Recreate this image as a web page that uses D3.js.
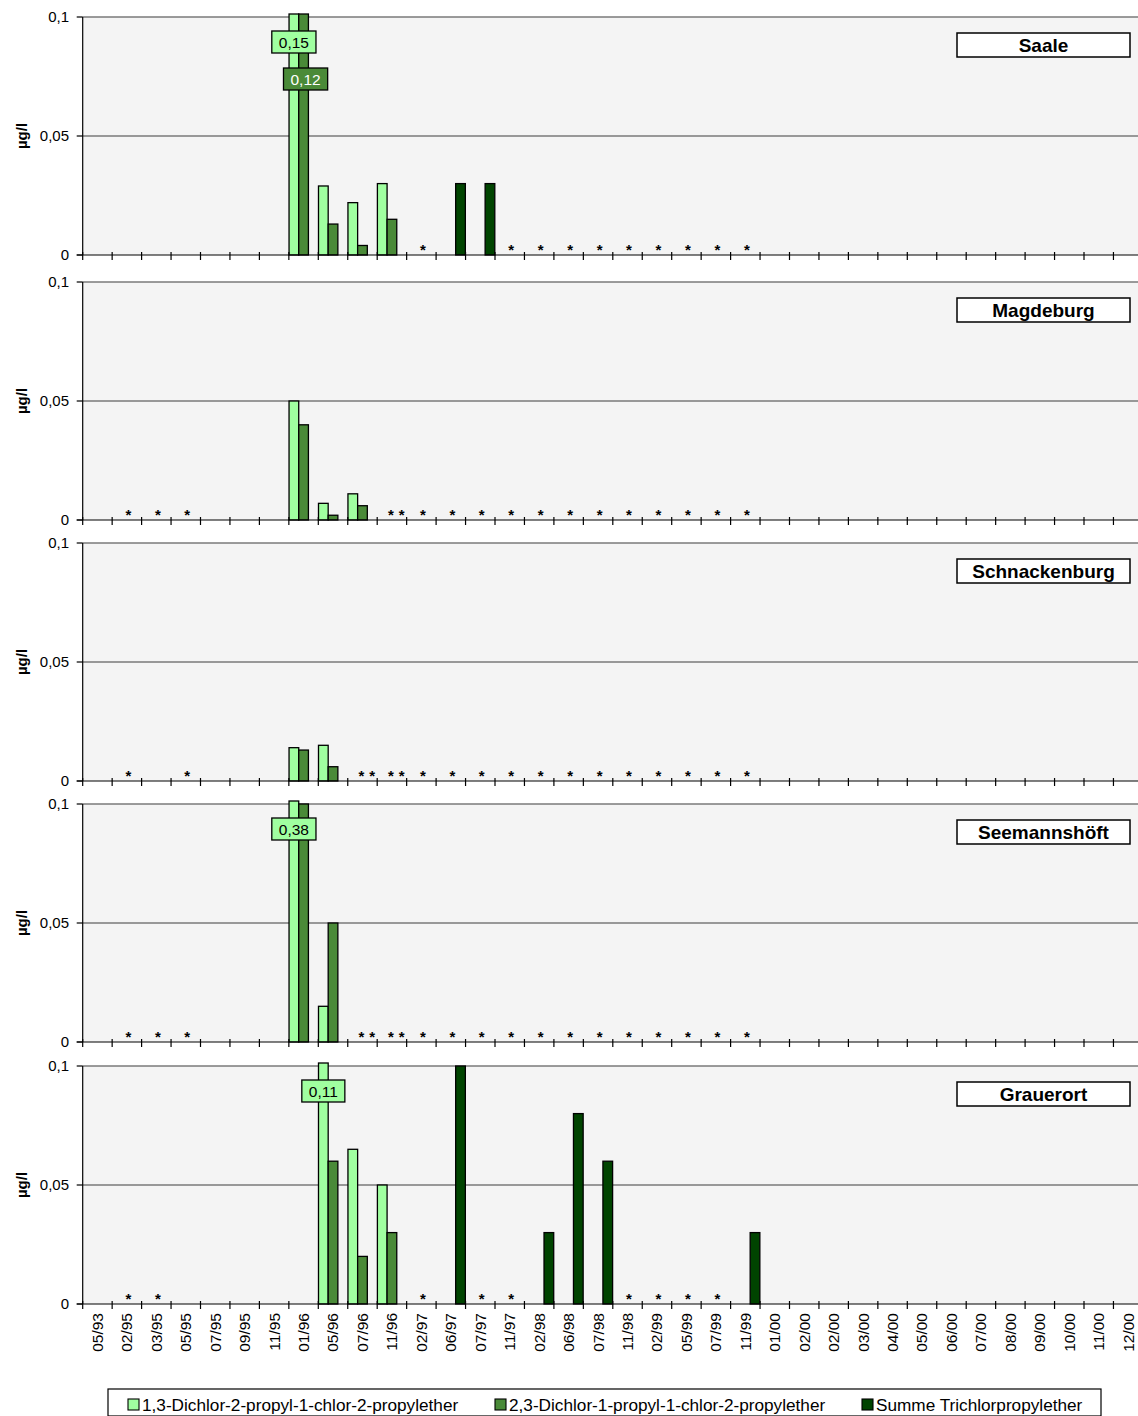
<!DOCTYPE html>
<html>
<head>
<meta charset="utf-8">
<script src="https://cdn.jsdelivr.net/npm/d3@7"></script>
<style>
  body { margin: 0; background: #fff; }
  svg { display: block; }
  text { font-family: "Liberation Sans", Arial, sans-serif; fill: #000; }
</style>
</head>
<body>
<svg id="chart" width="1138" height="1416"></svg>
<script>
// ---- data ---------------------------------------------------------------
const categories = ["05/93","02/95","03/95","05/95","07/95","09/95","11/95","01/96","05/96","07/96",
  "11/96","02/97","06/97","07/97","11/97","02/98","06/98","07/98","11/98","02/99","05/99","07/99",
  "11/99","01/00","02/00","02/00","03/00","04/00","05/00","06/00","07/00","08/00","09/00","10/00",
  "11/00","12/00"];

const seriesNames = [
  "1,3-Dichlor-2-propyl-1-chlor-2-propylether",
  "2,3-Dichlor-1-propyl-1-chlor-2-propylether",
  "Summe Trichlorpropylether"
];

const stations = ["Saale", "Magdeburg", "Schnackenburg", "Seemannshöft", "Grauerort"];
const yTicks = [0, 0.05, 0.1];
const yTickLabels = ["0", "0,05", "0,1"];
const unitLabel = "µg/l";

// measured values, µg/l : [sampling date, value]
const saale13 = [["01/96",0.15],["05/96",0.029],["07/96",0.022],["11/96",0.030]];
const saale23 = [["01/96",0.12],["05/96",0.013],["07/96",0.004],["11/96",0.015]];
const saaleSum = [["06/97",0.03],["07/97",0.03]];
const saaleND = ["02/97","11/97","02/98","06/98","07/98","11/98","02/99","05/99","07/99","11/99"];

const magdeburg13 = [["01/96",0.05],["05/96",0.007],["07/96",0.011]];
const magdeburg23 = [["01/96",0.04],["05/96",0.002],["07/96",0.006]];
const magdeburgSum = [];
const magdeburgND = ["02/95","03/95","05/95","11/96","11/96","02/97","06/97","07/97","11/97","02/98",
  "06/98","07/98","11/98","02/99","05/99","07/99","11/99"];

const schnackenburg13 = [["01/96",0.014],["05/96",0.015]];
const schnackenburg23 = [["01/96",0.013],["05/96",0.006]];
const schnackenburgSum = [];
const schnackenburgND = ["02/95","05/95","07/96","07/96","11/96","11/96","02/97","06/97","07/97","11/97",
  "02/98","06/98","07/98","11/98","02/99","05/99","07/99","11/99"];

const seemannshoeft13 = [["01/96",0.38],["05/96",0.015]];
const seemannshoeft23 = [["01/96",0.10],["05/96",0.05]];
const seemannshoeftSum = [];
const seemannshoeftND = ["02/95","03/95","05/95","07/96","07/96","11/96","11/96","02/97","06/97","07/97",
  "11/97","02/98","06/98","07/98","11/98","02/99","05/99","07/99","11/99"];

const grauerort13 = [["05/96",0.11],["07/96",0.065],["11/96",0.05]];
const grauerort23 = [["05/96",0.06],["07/96",0.02],["11/96",0.03]];
const grauerortSum = [["06/97",0.10],["02/98",0.03],["06/98",0.08],["07/98",0.06],["11/99",0.03]];
const grauerortND = ["02/95","03/95","02/97","07/97","11/97","11/98","02/99","05/99","07/99"];

const stationSeries = [
  [saale13, saale23, saaleSum, saaleND],
  [magdeburg13, magdeburg23, magdeburgSum, magdeburgND],
  [schnackenburg13, schnackenburg23, schnackenburgSum, schnackenburgND],
  [seemannshoeft13, seemannshoeft23, seemannshoeftSum, seemannshoeftND],
  [grauerort13, grauerort23, grauerortSum, grauerortND]
];

// ---- layout & style -----------------------------------------------------
const W = 1138;
const plotLeft = 82.7, step = 29.45;
const plotRight = plotLeft + categories.length * step;
const panelTops = [17, 282, 543, 804, 1066];
const panelH = 238;
const colors = ["#a0ffa0", "#4a8a38", "#004400"];
const labelText = ["#000", "#fff", "#fff"];
const fmt = v => d3.format(".2f")(v).replace(".", ",");

const svg = d3.select("#chart");

const x = d3.scaleBand()
  .domain(d3.range(categories.length))
  .range([plotLeft, plotRight])
  .paddingInner(0).paddingOuter(0);
const xs = d3.scaleBand().domain([0, 1, 2]).range([0, x.bandwidth()]).paddingOuter(0.02);
const catIndex = label => categories.indexOf(label);

stations.forEach((name, p) => {
  const top = panelTops[p];
  const y = d3.scaleLinear().domain([0, 0.1]).range([top + panelH, top]);
  const base = y(0);
  const g = svg.append("g");

  // plot area
  g.append("rect")
    .attr("x", plotLeft).attr("y", y(0.1))
    .attr("width", W - plotLeft).attr("height", base - y(0.1))
    .attr("fill", "#f4f4f4");

  // gridlines
  g.selectAll("line.grid").data(yTicks.filter(t => t > 0)).join("line")
    .attr("x1", plotLeft).attr("x2", W)
    .attr("y1", d => y(d)).attr("y2", d => y(d))
    .attr("stroke", "#7a7a7a").attr("stroke-width", 1.4);

  // bars
  const [s13, s23, sSum, nd] = stationSeries[p];
  const bars = [];
  [s13, s23, sSum].forEach((arr, s) => arr.forEach(([c, v]) => bars.push({ c: catIndex(c), v, s })));
  g.selectAll("rect.bar").data(bars).join("rect")
    .attr("x", d => x(d.c) + xs(d.s))
    .attr("width", xs.bandwidth())
    .attr("y", d => d.v > 0.1 ? y(0.1) - 3 : y(d.v))
    .attr("height", d => base - (d.v > 0.1 ? y(0.1) - 3 : y(d.v)))
    .attr("fill", d => colors[d.s])
    .attr("stroke", "#000").attr("stroke-width", 1.3);

  // not-detected markers
  const ndCount = d3.rollups(nd, v => v.length, c => c);
  const stars = [];
  ndCount.forEach(([c, n]) => {
    const i = catIndex(c);
    if (n === 1) stars.push(x(i) + x.bandwidth() / 2 + 1.5);
    else { stars.push(x(i) + xs(1) + xs.bandwidth() / 2 - 1); stars.push(x(i) + xs(2) + xs.bandwidth() / 2); }
  });
  g.selectAll("text.star").data(stars).join("text")
    .attr("x", d => d).attr("y", base)
    .attr("text-anchor", "middle")
    .attr("font-size", 15).attr("font-weight", "bold")
    .text("*");

  // value labels for bars running off the top of the scale
  const over = d3.groups(bars.filter(d => d.v > 0.1), d => d.c);
  over.forEach(([c, list]) => {
    list.forEach((d, k) => {
      const cx = x(d.c) + xs(d.s) + xs.bandwidth() / 2 + (k > 0 ? 2 : 0);
      const cy = y(0.1) + 25 + k * 37;
      const lg = g.append("g");
      const t = lg.append("text")
        .attr("x", cx).attr("y", cy).attr("dy", "0.36em")
        .attr("text-anchor", "middle").attr("font-size", 15.5)
        .style("fill", labelText[d.s])
        .text(fmt(d.v));
      const tw = t.node().getComputedTextLength();
      lg.insert("rect", "text")
        .attr("x", cx - tw / 2 - 7).attr("y", cy - 11)
        .attr("width", tw + 14).attr("height", 22)
        .attr("fill", colors[d.s]).attr("stroke", "#000").attr("stroke-width", 1.3);
    });
  });

  // axes
  g.append("line").attr("x1", plotLeft).attr("x2", plotLeft)
    .attr("y1", y(0.1)).attr("y2", base).attr("stroke", "#000").attr("stroke-width", 1.2);
  g.append("line").attr("x1", plotLeft - 6).attr("x2", W)
    .attr("y1", base).attr("y2", base).attr("stroke", "#000").attr("stroke-width", 1.2);
  g.selectAll("line.ytick").data(yTicks).join("line")
    .attr("x1", plotLeft - 6).attr("x2", plotLeft)
    .attr("y1", d => y(d)).attr("y2", d => y(d))
    .attr("stroke", "#000").attr("stroke-width", 1.2);
  g.selectAll("text.ylab").data(yTicks).join("text")
    .attr("x", 69).attr("y", d => y(d)).attr("dy", "0.35em")
    .attr("text-anchor", "end").attr("font-size", 15)
    .text((d, i) => yTickLabels[i]);
  g.selectAll("line.xtick").data(d3.range(categories.length + 1)).join("line")
    .attr("x1", d => plotLeft + d * step).attr("x2", d => plotLeft + d * step)
    .attr("y1", base - 3).attr("y2", base + 5)
    .attr("stroke", "#000").attr("stroke-width", 1.2);

  g.append("text")
    .attr("transform", `translate(22,${y(0.05)}) rotate(-90)`)
    .attr("dy", "0.35em").attr("text-anchor", "middle")
    .attr("font-size", 15).attr("font-weight", "bold")
    .text(unitLabel);

  // station title
  g.append("rect").attr("x", 957).attr("y", top + 16).attr("width", 173).attr("height", 24)
    .attr("fill", "#fff").attr("stroke", "#000").attr("stroke-width", 1.5);
  g.append("text").attr("x", 1043.5).attr("y", top + 35)
    .attr("text-anchor", "middle").attr("font-size", 19).attr("font-weight", "bold")
    .text(name);

  // date labels under the last panel
  if (p === stations.length - 1) {
    g.selectAll("text.xlab").data(categories).join("text")
      .attr("transform", (d, i) => `translate(${x(i) + x.bandwidth() / 2},${base + 9}) rotate(-90)`)
      .attr("dy", "0.35em").attr("text-anchor", "end").attr("font-size", 15.5)
      .text(d => d);
  }
});

// legend
const leg = svg.append("g");
leg.append("rect").attr("x", 108).attr("y", 1389).attr("width", 993).attr("height", 27)
  .attr("fill", "#fff").attr("stroke", "#000").attr("stroke-width", 1.2);
const legX = [128, 495, 862];
seriesNames.forEach((n, i) => {
  leg.append("rect").attr("x", legX[i]).attr("y", 1399).attr("width", 11).attr("height", 11)
    .attr("fill", colors[i]).attr("stroke", "#000").attr("stroke-width", 1.1);
  leg.append("text").attr("x", legX[i] + 14).attr("y", 1411)
    .attr("font-size", 17.2).text(n);
});
</script>
</body>
</html>
